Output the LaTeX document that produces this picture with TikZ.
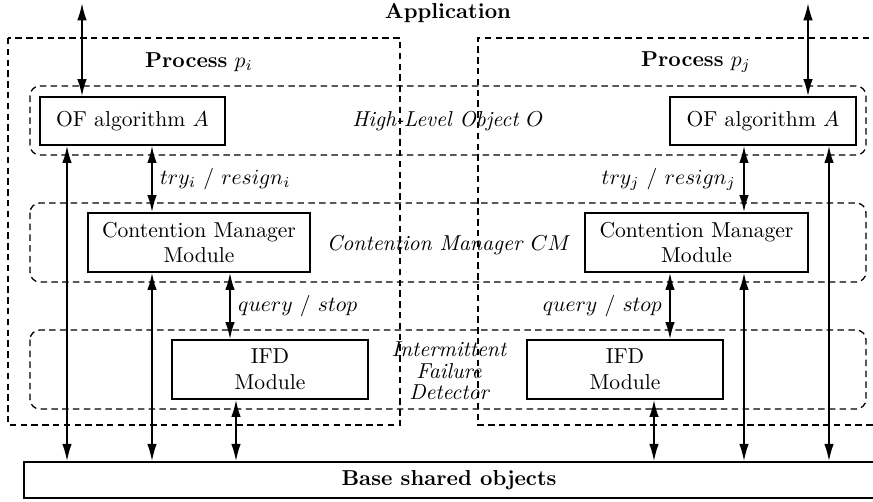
\documentclass[tikz,border=0pt]{standalone}
\usepackage{tikz}
\usetikzlibrary{arrows.meta, positioning, calc}
\usepackage{amsmath, amssymb}

\tikzset{
  modbox/.style={draw, line width=0.65pt, inner sep=0pt, align=center},
  procbox/.style={draw, line width=0.6pt, dash pattern=on 3pt off 2pt},
  layer/.style={procbox, rounded corners=4.5pt},
  link/.style={line width=0.9pt, {Latex[length=8pt,width=4.4pt]}-{Latex[length=8pt,width=4.4pt]}},
}

\begin{document}
\begin{tikzpicture}[x=0.463pt, y=-0.463pt]
  \useasboundingbox (0,0) rectangle (873,501);

  % processes and layers
  \draw[procbox] (8,38) rectangle (400,425);
  \draw[procbox] (880,38) -- (478,38) -- (478,425) -- (880,425);
  \draw[layer] (30,86) rectangle (866,155);
  \draw[layer] (30,203) rectangle (866,282);
  \draw[layer] (30,330) rectangle (866,409);

  \node[font=\bfseries] (app) at (448,13) {Application};
  \node (procI) at (199,62) {\textbf{Process} $p_i$};
  \node (procJ) at (696,62) {\textbf{Process} $p_j$};
  \node (objO) at (448,121) {\textit{High-Level Object} $O$};
  \node (cmName) at (449,245) {\textit{Contention Manager} $CM$};
  \node[font=\itshape\fontsize{10pt}{10pt}\selectfont, align=center] (ifdName) at (449,371)
    {Intermittent\\Failure\\Detector};

  % modules
  \node[modbox, minimum width=85.7pt, minimum height=22.2pt] (ofL) at (132.5,121) {OF algorithm $A$};
  \node[modbox, minimum width=86pt, minimum height=22.2pt] (ofR) at (763,121) {OF algorithm $A$};
  \node[modbox, minimum width=102.8pt, minimum height=27.3pt] (cmL) at (199,242.5) {Contention Manager\\Module};
  \node[modbox, minimum width=103.2pt, minimum height=27.3pt] (cmR) at (696.5,242.5) {Contention Manager\\Module};
  \node[modbox, minimum width=90.7pt, minimum height=27.3pt] (ifdL) at (270,369.5) {IFD\\Module};
  \node[modbox, minimum width=90.7pt, minimum height=27.3pt] (ifdR) at (625,369.5) {IFD\\Module};
  \node[modbox, minimum width=393.5pt, minimum height=16.7pt] (base) at (449,480) {\textbf{Base shared objects}};

  % arrow columns
  \coordinate (appL) at (82,3);
  \coordinate (appR) at (808,3);
  \coordinate (xa) at (67,0);
  \coordinate (xb) at (152,0);
  \coordinate (xc) at (230,0);
  \coordinate (xd) at (236,0);
  \coordinate (xe) at (654,0);
  \coordinate (xf) at (670,0);
  \coordinate (xg) at (744,0);
  \coordinate (xh) at (829,0);

  \draw[link] (appL) -- (appL |- ofL.north);
  \draw[link] (appR) -- (appR |- ofR.north);

  \draw[link] (ofL.south -| xa) -- (base.north -| xa);
  \draw[link] (ofL.south -| xb) -- node[right] {$try_i$ / $resign_i$} (cmL.north -| xb);
  \draw[link] (cmL.south -| xb) -- (base.north -| xb);
  \draw[link] (cmL.south -| xc) -- node[right] {$query$ / $stop$} (ifdL.north -| xc);
  \draw[link] (ifdL.south -| xd) -- (base.north -| xd);

  \draw[link] (ofR.south -| xh) -- (base.north -| xh);
  \draw[link] (ofR.south -| xg) -- node[left] {$try_j$ / $resign_j$} (cmR.north -| xg);
  \draw[link] (cmR.south -| xg) -- (base.north -| xg);
  \draw[link] (cmR.south -| xf) -- node[left] {$query$ / $stop$} (ifdR.north -| xf);
  \draw[link] (ifdR.south -| xe) -- (base.north -| xe);
\end{tikzpicture}
\end{document}
